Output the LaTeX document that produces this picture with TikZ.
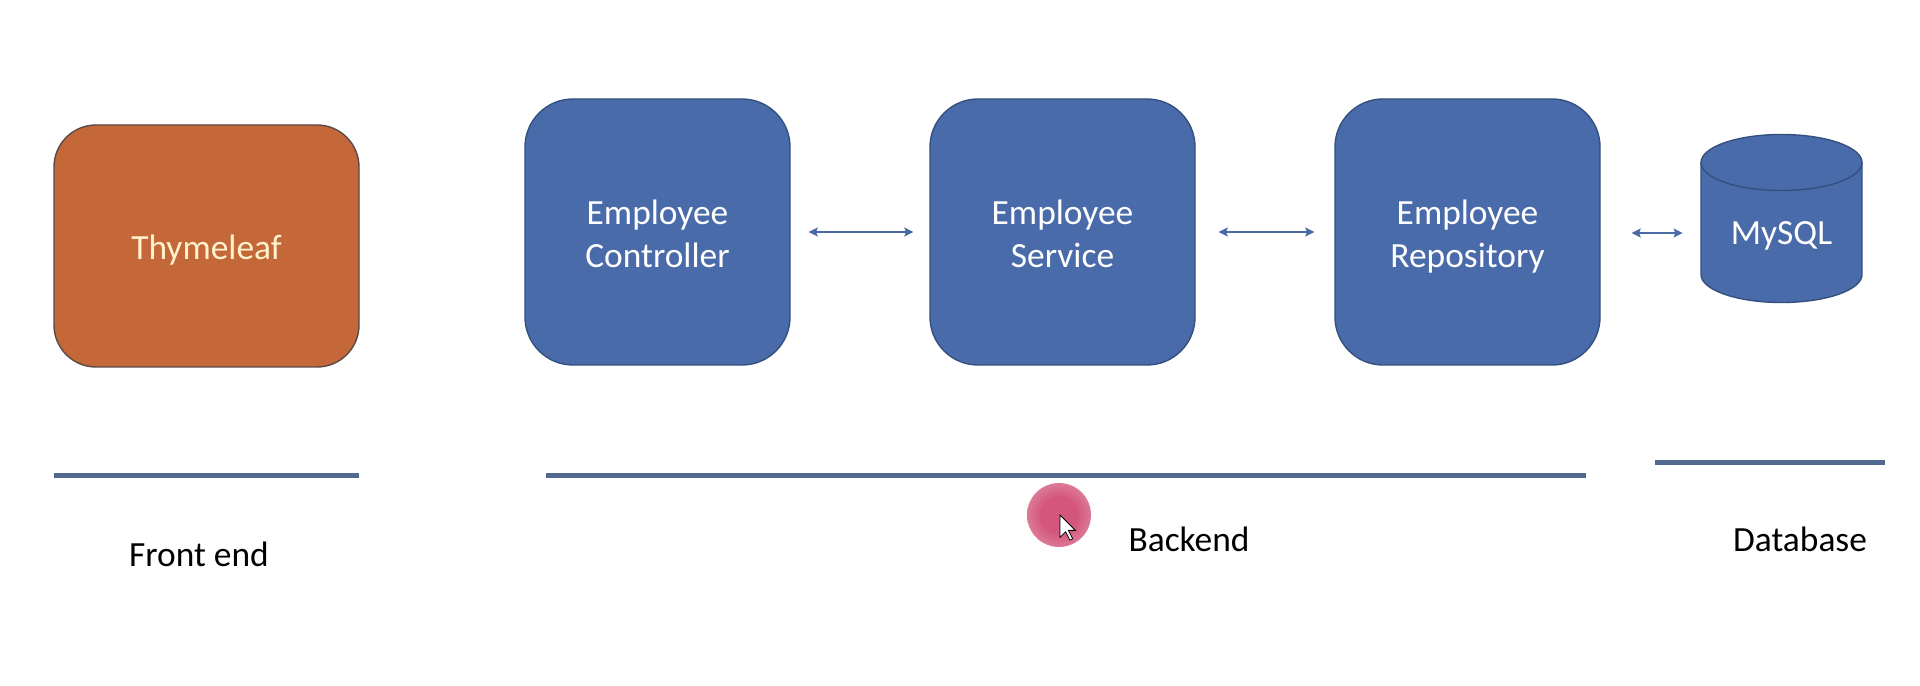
\documentclass[tikz,border=0pt]{standalone}
\usepackage{fontspec}
\setmainfont{Carlito}
\usetikzlibrary{arrows.meta}
\definecolor{boxblue}{HTML}{4A6BAA}
\definecolor{boxblueline}{HTML}{34507E}
\definecolor{boxorange}{HTML}{C4683A}
\definecolor{boxorangeline}{HTML}{5B4A48}
\definecolor{cream}{HTML}{FFF2CC}
\definecolor{barcol}{HTML}{52698F}
\definecolor{arrcol}{HTML}{4A6AA6}
\definecolor{cursorpink}{HTML}{D4567C}
\pgfdeclareradialshading{pinkglow}{\pgfpoint{0bp}{0bp}}{color(0bp)=(cursorpink); color(14bp)=(cursorpink); color(30bp)=(cursorpink!70); color(42bp)=(cursorpink!25); color(50bp)=(white); color(60bp)=(white)}
\newcommand{\tallstrut}{\rule{0pt}{20pt}}
\newcommand{\midstrut}{\rule{0pt}{17.5pt}}
\tikzset{
  boxtext/.style={font=\fontsize{17.7}{21.5}\selectfont, align=center},
  bluebox/.style={boxtext, draw=boxblueline, fill=boxblue, line width=0.7pt, rounded corners=24pt,
    minimum width=132.5pt, minimum height=133pt, text=white, inner sep=0pt},
  orangebox/.style={boxtext, draw=boxorangeline, fill=boxorange, line width=0.7pt, rounded corners=21pt,
    minimum width=152.5pt, minimum height=121pt, text=cream, inner sep=0pt},
  dbshape/.style={draw=boxblueline, fill=boxblue, line width=0.7pt},
  biarrow/.style={draw=arrcol, line width=0.7pt, {Stealth[length=4.5pt,width=4.5pt,inset=0.8pt]}-{Stealth[length=4.5pt,width=4.5pt,inset=0.8pt]}},
  bar/.style={draw=barcol, line width=2.5pt},
  label/.style={font=\fontsize{17.7}{21.5}\selectfont, text=black, inner sep=0pt}
}
\begin{document}
\begin{tikzpicture}[x=0.5pt,y=0.5pt]
\useasboundingbox (0,0) rectangle (1920,685);
\fill[white] (0,0) rectangle (1920,685);

% boxes
\node[orangebox] (thyme) at (206.5,439) {\tallstrut Thymeleaf\strut};
\node[bluebox] (ctrl) at (657.5,453) {\tallstrut Employee\strut\\Controller\strut};
\node[bluebox] (serv) at (1062.5,453) {\tallstrut Employee\strut\\Service\strut};
\node[bluebox] (repo) at (1467.5,453) {\tallstrut Employee\strut\\Repository\strut};

% database cylinder
\path[dbshape] (1701,522.5) -- (1701,410.5)
  arc[start angle=180, end angle=360, x radius=40.25pt, y radius=14pt]
  -- (1862,522.5)
  arc[start angle=0, end angle=180, x radius=40.25pt, y radius=14pt] -- cycle;
\draw[draw=boxblueline, line width=0.7pt] (1701,522.5)
  arc[start angle=180, end angle=360, x radius=40.25pt, y radius=14pt];
\node[boxtext, text=white, minimum width=80.5pt, minimum height=84.5pt, inner sep=0pt] (db) at (1781.5,452) {\midstrut MySQL\strut};

% arrows
\draw[biarrow, shorten <=9pt, shorten >=8pt] (ctrl.east) -- (serv.west);
\draw[biarrow, shorten <=11.5pt, shorten >=10pt] (serv.east) -- (repo.west);
\draw[biarrow, shorten <=15.5pt, shorten >=9pt] (repo.east |- db.west) -- (db.west);

% bars
\coordinate (f1) at (54,209);
\coordinate (f2) at (359,209);
\coordinate (b1) at (546,209);
\coordinate (b2) at (1586,209);
\coordinate (d1) at (1655,222);
\coordinate (d2) at (1885,222);
\draw[bar] (f1) -- (f2);
\draw[bar] (b1) -- (b2);
\draw[bar] (d1) -- (d2);

% labels
\node[label] (lfront) at (199,130.5) {Front end};
\node[label] (lback) at (1189,146) {Backend};
\node[label] (ldb) at (1800,146) {Database};

% cursor highlight
\path[shading=pinkglow] (1059,170) circle (16pt);
\draw[fill=white, draw=black, line width=0.4pt, line join=miter]
  (1060,170) -- ++(0,-22.4) -- ++(5.6,5.6) -- ++(4.2,-8.4) -- ++(2.8,1.4) -- ++(-4.2,8.4) -- ++(7,0) -- cycle;
\end{tikzpicture}
\end{document}
